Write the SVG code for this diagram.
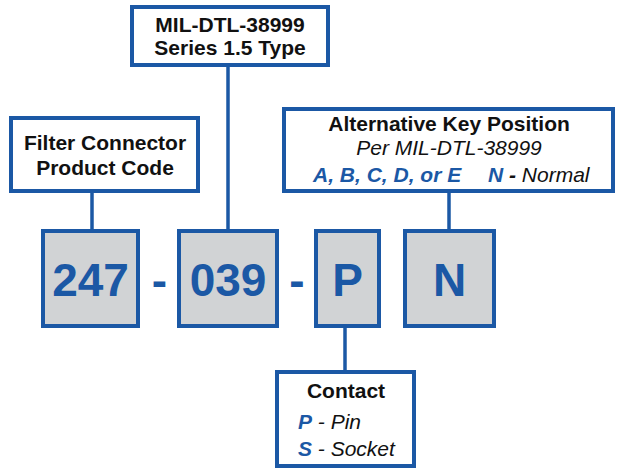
<svg xmlns="http://www.w3.org/2000/svg" width="617" height="472" viewBox="0 0 617 472">
<style>
.box{fill:#ffffff;stroke:#1b58a5;stroke-width:4}
.cell{fill:#d1d3d5;stroke:#1b58a5;stroke-width:4}
.lbl{font-family:"Liberation Sans",Arial,sans-serif;font-size:21px;font-weight:bold;fill:#111111;text-anchor:middle}
.it{font-family:"Liberation Sans",Arial,sans-serif;font-size:21px;font-style:italic;fill:#111111}
.bi{font-weight:bold;fill:#1b58a5}
.big{font-family:"Liberation Sans",Arial,sans-serif;font-size:46px;font-weight:bold;fill:#1b58a5;text-anchor:middle}
.conn line{stroke:#1b58a5;stroke-width:3.5}
</style>
<rect width="617" height="472" fill="#ffffff"/>
<g class="conn" id="connectors">
<line x1="92" y1="193" x2="92" y2="231"/>
<line x1="228" y1="67" x2="228" y2="231"/>
<line x1="449" y1="193" x2="449" y2="231"/>
<line x1="345" y1="326" x2="345" y2="372"/>
</g>
<g id="filter-box">
<rect class="box" x="11" y="118" width="187" height="73"/>
<text class="lbl" x="105" y="150">Filter Connector</text>
<text class="lbl" x="105" y="175">Product Code</text>
</g>
<g id="mil-box">
<rect class="box" x="132" y="7" width="196" height="58"/>
<text class="lbl" x="230" y="32">MIL-DTL-38999</text>
<text class="lbl" x="230" y="55">Series 1.5 Type</text>
</g>
<g id="key-box">
<rect class="box" x="284" y="109" width="329" height="82"/>
<text class="lbl" x="449" y="131">Alternative Key Position</text>
<text class="it" x="449" y="155" text-anchor="middle">Per MIL-DTL-38999</text>
<text class="it" x="313" y="182"><tspan class="bi">A, B, C, D, or E</tspan><tspan class="bi" x="488">N</tspan><tspan font-weight="bold"> - </tspan><tspan>Normal</tspan></text>
</g>
<g id="contact-box">
<rect class="box" x="277" y="372" width="137" height="94"/>
<text class="lbl" x="346" y="398">Contact</text>
<text class="it" x="298" y="429"><tspan class="bi">P</tspan> - Pin</text>
<text class="it" x="298" y="456"><tspan class="bi">S</tspan> - Socket</text>
</g>
<g id="cell-247">
<rect class="cell" x="43" y="231" width="95" height="95"/>
<text class="big" x="90.5" y="296">247</text>
</g>
<text class="big" x="159.5" y="296">-</text>
<g id="cell-039">
<rect class="cell" x="179" y="231" width="98" height="95"/>
<text class="big" x="228" y="296">039</text>
</g>
<text class="big" x="297" y="296">-</text>
<g id="cell-P">
<rect class="cell" x="316" y="231" width="63" height="95"/>
<text class="big" x="347.5" y="296">P</text>
</g>
<g id="cell-N">
<rect class="cell" x="405" y="231" width="89" height="95"/>
<text class="big" x="449.5" y="296">N</text>
</g>
</svg>
